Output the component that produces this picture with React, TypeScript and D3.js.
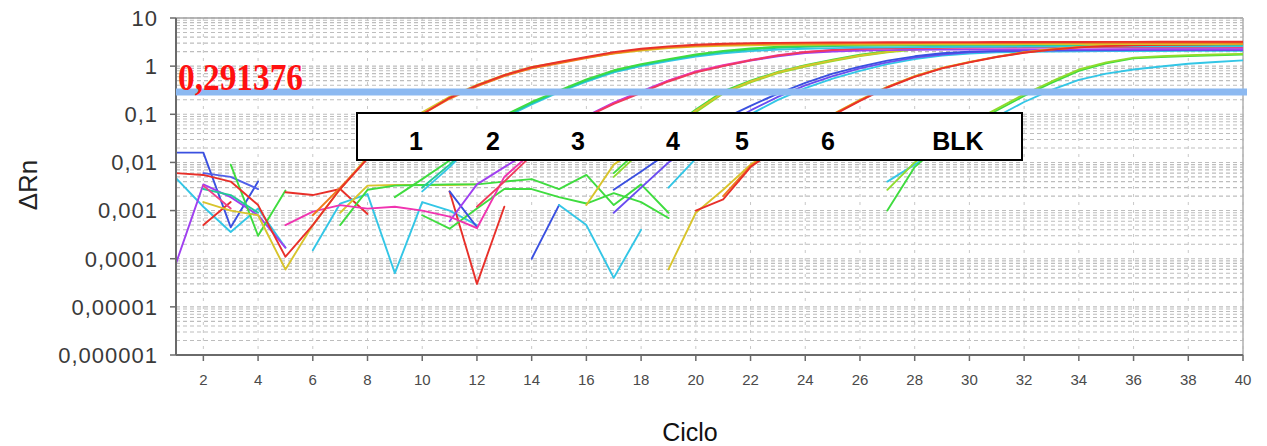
import React from "react";
import * as d3 from "d3";

// ---------- data ----------
const CYCLES = [1, 2, 3, 4, 5, 6, 7, 8, 9, 10, 11, 12, 13, 14, 15, 16, 17, 18, 19, 20, 21, 22, 23, 24, 25, 26, 27, 28, 29, 30, 31, 32, 33, 34, 35, 36, 37, 38, 39, 40];
const X_TICKS = [2, 4, 6, 8, 10, 12, 14, 16, 18, 20, 22, 24, 26, 28, 30, 32, 34, 36, 38, 40];
const Y_TICKS = [10, 1, 0.1, 0.01, 0.001, 0.0001, 0.00001, 0.000001];
const Y_TICK_LABELS = ["10", "1", "0,1", "0,01", "0,001", "0,0001", "0,00001", "0,000001"];
const THRESHOLD = 0.291376;
const THRESHOLD_LABEL = "0,291376";
const BOX_LABELS = ["1", "2", "3", "4", "5", "6", "BLK"];
const X_TITLE = "Ciclo";
const Y_TITLE = "ΔRn";

// baseline noise fragments (start cycle, values)
const n1Start = 1, n1 = [0.016, 0.016, 0.00045, 0.004];
const n2Start = 2, n2 = [0.006, 0.005, 0.0028];
const n3Start = 1, n3 = [0.0047, 0.0012, 0.00036, 0.0011, 0.00017];
const n4Start = 1, n4 = [0.00008, 0.0035, 0.0019, 0.0008, 0.00017];
const n5Start = 3, n5 = [0.009, 0.0003, 0.0026];
const n6Start = 2, n6 = [0.0028, 0.0021, 0.0009];
const n7Start = 2, n7 = [0.0005, 0.0015];
const n8Start = 5, n8 = [0.0024, 0.0021, 0.0028, 0.00085];
const n10Start = 6, n10 = [0.00015, 0.0014, 0.0022, 0.00005, 0.0015, 0.001, 0.0005];
const n11Start = 2, n11 = [0.0033, 0.0011];
const n12Start = 11, n12 = [0.0025, 0.00003, 0.0012];
const n13Start = 7, n13 = [0.0009, 0.0033, 0.0034, 0.0034, 0.0034, 0.0035];
const n14Start = 7, n14 = [0.0005, 0.0027, 0.0033, 0.0034, 0.0035, 0.0035, 0.004, 0.0045, 0.0028, 0.0055, 0.0013, 0.0035, 0.0009];
const n15Start = 10, n15 = [0.0008, 0.00042, 0.0011, 0.0028, 0.0028, 0.0019, 0.0014, 0.0023, 0.0015, 0.0007];
const n16Start = 11, n16 = [0.0025, 0.00045];
const n17Start = 14, n17 = [0.0001, 0.0013];
const n18Start = 15, n18 = [0.0013, 0.0005, 0.00004, 0.0004];

// amplification curves
const g1RedStart = 1, g1Red = [0.006, 0.0055, 0.004, 0.0013, 0.00011, 0.0005, 0.0028, 0.012, 0.04, 0.1, 0.22, 0.4, 0.65, 0.95, 1.22, 1.55, 1.95, 2.3, 2.58, 2.78, 2.92, 3.0, 3.05, 3.08, 3.1, 3.12, 3.13, 3.14, 3.15, 3.16, 3.17, 3.17, 3.18, 3.18, 3.19, 3.19, 3.2, 3.2, 3.21, 3.22];
const g1OrangeStart = 6, g1Orange = [0.0008, 0.003, 0.012, 0.042, 0.1, 0.21, 0.38, 0.62, 0.9, 1.15, 1.48, 1.85, 2.2, 2.45, 2.65, 2.78, 2.86, 2.91, 2.94, 2.96, 2.98, 2.99, 3.0, 3.01, 3.02, 3.03, 3.03, 3.04, 3.04, 3.05, 3.05, 3.06, 3.06, 3.07, 3.07];
const g1YellowStart = 2, g1Yellow = [0.0015, 0.001, 0.0008, 0.00006, 0.0005, 0.0028, 0.013, 0.045, 0.11, 0.23, 0.41, 0.66, 0.96, 1.2, 1.5, 1.82, 2.12, 2.38, 2.55, 2.66, 2.72, 2.76, 2.78, 2.8, 2.81, 2.82, 2.83, 2.84, 2.85, 2.85, 2.86, 2.86, 2.87, 2.87, 2.88, 2.88, 2.89, 2.89, 2.9];
const g2GreenStart = 9, g2Green = [0.0019, 0.0045, 0.011, 0.035, 0.095, 0.18, 0.31, 0.53, 0.82, 1.1, 1.4, 1.75, 2.08, 2.33, 2.52, 2.64, 2.72, 2.77, 2.8, 2.82, 2.84, 2.86, 2.87, 2.88, 2.89, 2.9, 2.91, 2.92, 2.92, 2.93, 2.93, 2.94];
const g2TealStart = 10, g2Teal = [0.003, 0.009, 0.032, 0.09, 0.17, 0.3, 0.5, 0.78, 1.05, 1.35, 1.68, 1.98, 2.22, 2.4, 2.52, 2.6, 2.65, 2.68, 2.7, 2.72, 2.73, 2.74, 2.75, 2.76, 2.77, 2.78, 2.78, 2.79, 2.79, 2.8, 2.8];
const g2CyanStart = 10, g2Cyan = [0.0025, 0.008, 0.03, 0.085, 0.16, 0.29, 0.48, 0.74, 1.0, 1.28, 1.58, 1.85, 2.05, 2.2, 2.3, 2.37, 2.42, 2.45, 2.48, 2.5, 2.52, 2.53, 2.54, 2.55, 2.56, 2.57, 2.57, 2.58, 2.58, 2.59, 2.6];
const g3MagentaStart = 5, g3Magenta = [0.0005, 0.00095, 0.0013, 0.0011, 0.0012, 0.001, 0.00075, 0.00043, 0.005, 0.016, 0.04, 0.09, 0.17, 0.29, 0.5, 0.78, 1.05, 1.35, 1.68, 1.98, 2.18, 2.3, 2.36, 2.4, 2.42, 2.43, 2.44, 2.44, 2.45, 2.45, 2.45, 2.46, 2.46, 2.46, 2.47, 2.47];
const g3PurpleStart = 11, g3Purple = [0.0006, 0.0035, 0.008, 0.018, 0.042, 0.092, 0.175, 0.3, 0.5, 0.76, 1.02, 1.3, 1.6, 1.86, 2.02, 2.1, 2.15, 2.18, 2.2, 2.21, 2.22, 2.22, 2.23, 2.23, 2.23, 2.24, 2.24, 2.24, 2.25, 2.25];
const g3RedStart = 12, g3Red = [0.0012, 0.004, 0.014, 0.038, 0.088, 0.165, 0.28, 0.48, 0.74, 1.0, 1.32, 1.65, 1.95, 2.15, 2.28, 2.36, 2.41, 2.44, 2.46, 2.48, 2.49, 2.5, 2.51, 2.52, 2.52, 2.53, 2.53, 2.54, 2.54];
const g4YellowStart = 16, g4Yellow = [0.0013, 0.009, 0.022, 0.045, 0.12, 0.28, 0.48, 0.74, 1.02, 1.32, 1.66, 1.98, 2.26, 2.46, 2.6, 2.68, 2.73, 2.77, 2.8, 2.82, 2.83, 2.84, 2.85, 2.86, 2.87];
const g4GreenStart = 17, g4Green = [0.006, 0.02, 0.048, 0.125, 0.3, 0.5, 0.76, 1.05, 1.36, 1.72, 2.05, 2.34, 2.54, 2.68, 2.77, 2.83, 2.87, 2.9, 2.92, 2.93, 2.94, 2.95, 2.96, 2.97];
const g4LimeStart = 17, g4Lime = [0.005, 0.017, 0.042, 0.11, 0.27, 0.46, 0.72, 0.98, 1.28, 1.62, 1.94, 2.2, 2.4, 2.52, 2.6, 2.64, 2.67, 2.69, 2.7, 2.71, 2.72, 2.72, 2.73, 2.73];
const g5BlueStart = 17, g5Blue = [0.0027, 0.0065, 0.016, 0.04, 0.08, 0.15, 0.27, 0.45, 0.7, 0.98, 1.3, 1.6, 1.85, 2.0, 2.08, 2.13, 2.16, 2.18, 2.19, 2.2, 2.21, 2.22, 2.22, 2.23];
const g5VioletStart = 17, g5Violet = [0.0009, 0.003, 0.01, 0.025, 0.06, 0.12, 0.23, 0.4, 0.62, 0.9, 1.2, 1.5, 1.75, 1.93, 2.03, 2.08, 2.11, 2.13, 2.14, 2.15, 2.16, 2.16, 2.17, 2.17];
const g5CyanStart = 19, g5Cyan = [0.003, 0.012, 0.045, 0.1, 0.2, 0.35, 0.55, 0.8, 1.1, 1.4, 1.65, 1.83, 1.93, 1.98, 2.01, 2.03, 2.05, 2.06, 2.07, 2.08, 2.08, 2.09];
const g6RedStart = 20, g6Red = [0.001, 0.0017, 0.008, 0.02, 0.045, 0.095, 0.19, 0.36, 0.6, 0.9, 1.2, 1.55, 1.9, 2.2, 2.45, 2.6, 2.7, 2.76, 2.8, 2.84, 2.88];
const g6YellowStart = 19, g6Yellow = [0.00006, 0.0009, 0.0027, 0.009, 0.021, 0.047, 0.1, 0.2, 0.37, 0.62, 0.92, 1.22, 1.58, 1.95, 2.25, 2.5, 2.68, 2.78, 2.84, 2.88, 2.9, 2.92];
const g6OrangeStart = 21, g6Orange = [0.002, 0.0085, 0.02, 0.046, 0.098, 0.195, 0.365, 0.61, 0.91, 1.21, 1.56, 1.92, 2.22, 2.47, 2.64, 2.74, 2.8, 2.84, 2.87, 2.9];
const blkGreenStart = 27, blkGreen = [0.001, 0.008, 0.025, 0.06, 0.12, 0.24, 0.45, 0.8, 1.15, 1.45, 1.55, 1.62, 1.68, 1.75];
const blkLimeStart = 27, blkLime = [0.0027, 0.01, 0.028, 0.065, 0.13, 0.26, 0.48, 0.85, 1.2, 1.5, 1.6, 1.68, 1.74, 1.8];
const blkCyanStart = 27, blkCyan = [0.004, 0.009, 0.02, 0.045, 0.09, 0.18, 0.32, 0.52, 0.7, 0.85, 0.98, 1.12, 1.22, 1.32];

// ---------- styles ----------
const C = {
  red: "#e8302a", orange: "#f07a1c", yellow: "#d8c42c", green: "#3fdc3f", lime: "#8fdc2c",
  teal: "#22cc96", cyan: "#33c6e6", blue: "#3a50e0", blue2: "#5060ea", purple: "#a040f0",
  violet: "#6a4cf0", magenta: "#f034b0", pink: "#f0408a", redPink: "#f03a5c",
};

const SERIES: { start: number; values: number[]; color: string }[] = [
  { start: n1Start, values: n1, color: C.blue },
  { start: n2Start, values: n2, color: C.blue2 },
  { start: n3Start, values: n3, color: C.cyan },
  { start: n4Start, values: n4, color: C.purple },
  { start: n5Start, values: n5, color: C.green },
  { start: n6Start, values: n6, color: C.teal },
  { start: n7Start, values: n7, color: C.red },
  { start: n8Start, values: n8, color: C.red },
  { start: n10Start, values: n10, color: C.cyan },
  { start: n11Start, values: n11, color: C.pink },
  { start: n12Start, values: n12, color: C.red },
  { start: n13Start, values: n13, color: C.yellow },
  { start: n14Start, values: n14, color: C.green },
  { start: n15Start, values: n15, color: C.green },
  { start: n16Start, values: n16, color: C.blue },
  { start: n17Start, values: n17, color: C.blue },
  { start: n18Start, values: n18, color: C.cyan },
  { start: blkCyanStart, values: blkCyan, color: C.cyan },
  { start: blkGreenStart, values: blkGreen, color: C.green },
  { start: blkLimeStart, values: blkLime, color: C.lime },
  { start: g5CyanStart, values: g5Cyan, color: C.cyan },
  { start: g5VioletStart, values: g5Violet, color: C.violet },
  { start: g5BlueStart, values: g5Blue, color: C.blue },
  { start: g4LimeStart, values: g4Lime, color: C.lime },
  { start: g4GreenStart, values: g4Green, color: C.green },
  { start: g4YellowStart, values: g4Yellow, color: C.yellow },
  { start: g3PurpleStart, values: g3Purple, color: C.purple },
  { start: g3MagentaStart, values: g3Magenta, color: C.magenta },
  { start: g3RedStart, values: g3Red, color: C.redPink },
  { start: g2CyanStart, values: g2Cyan, color: C.cyan },
  { start: g2TealStart, values: g2Teal, color: C.teal },
  { start: g2GreenStart, values: g2Green, color: C.green },
  { start: g6YellowStart, values: g6Yellow, color: C.yellow },
  { start: g6OrangeStart, values: g6Orange, color: C.orange },
  { start: g6RedStart, values: g6Red, color: C.red },
  { start: g1YellowStart, values: g1Yellow, color: C.yellow },
  { start: g1OrangeStart, values: g1Orange, color: C.orange },
  { start: g1RedStart, values: g1Red, color: C.red },
];

// ---------- layout ----------
const W = 1267, H = 446;
const PLOT = { left: 176, right: 1243, top: 18, bottom: 355 };
const BOX = { x: 357, y: 113, w: 665, h: 47, labelY: 150 };
const BOX_LABEL_X = [416, 493, 578, 673, 742, 828, 958];
const FONT = "'Liberation Sans', Arial, sans-serif";

export default function App() {
  const x = d3.scaleLinear().domain([1, 40]).range([PLOT.left, PLOT.right]);
  const y = d3.scaleLog().domain([1e-6, 10]).range([PLOT.bottom, PLOT.top]);

  const line = d3
    .line<[number, number | null]>()
    .defined((d) => d[1] != null && (d[1] as number) > 0)
    .x((d) => x(d[0]))
    .y((d) => y(d[1] as number));

  const gridY: number[] = [];
  for (let e = -6; e <= 0; e++) {
    for (let k = 1; k <= 9; k++) {
      const v = k * Math.pow(10, e);
      if (e === -6 && k === 1) continue;
      gridY.push(v);
    }
  }
  gridY.push(10);

  const toPoints = (start: number, values: number[]) =>
    CYCLES.map((c) => [c, c >= start && c - start < values.length ? values[c - start] : null] as [number, number | null]);

  const ty = y(THRESHOLD);

  return (
    <svg width={W} height={H} style={{ position: "absolute", left: 0, top: 0, display: "block", background: "#fff" }}>
      <rect x={0} y={0} width={W} height={H} fill="#fff" />
      <defs>
        <clipPath id="plotClip">
          <rect x={PLOT.left} y={PLOT.top} width={PLOT.right - PLOT.left} height={PLOT.bottom - PLOT.top} />
        </clipPath>
      </defs>

      {/* grid */}
      <g>
        {gridY.map((v, i) => (
          <line key={"gy" + i} x1={PLOT.left} x2={PLOT.right} y1={y(v)} y2={y(v)} stroke="#bdbdbd" strokeWidth={1.1} strokeDasharray="4,3" />
        ))}
        {X_TICKS.map((t) => (
          <line key={"gx" + t} x1={x(t)} x2={x(t)} y1={PLOT.top} y2={PLOT.bottom} stroke="#c8c8c8" strokeWidth={1} strokeDasharray="3,5" />
        ))}
      </g>

      {/* frame */}
      <line x1={PLOT.left} x2={PLOT.right} y1={PLOT.top} y2={PLOT.top} stroke="#a0a0a0" strokeWidth={1.5} />
      <line x1={PLOT.right} x2={PLOT.right} y1={PLOT.top} y2={PLOT.bottom} stroke="#b0b0b0" strokeWidth={1.5} />

      {/* curves */}
      <g clipPath="url(#plotClip)" fill="none" strokeWidth={1.9} strokeLinejoin="round" strokeLinecap="round">
        {SERIES.map((s, i) => (
          <path key={"s" + i} d={line(toPoints(s.start, s.values)) || ""} stroke={s.color} />
        ))}
      </g>

      {/* axes */}
      <line x1={PLOT.left} x2={PLOT.left} y1={PLOT.top} y2={PLOT.bottom} stroke="#6a6a6a" strokeWidth={2} />
      <line x1={PLOT.left} x2={PLOT.right} y1={PLOT.bottom} y2={PLOT.bottom} stroke="#6a6a6a" strokeWidth={2} />
      {Y_TICKS.map((t, i) => (
        <g key={"yt" + i}>
          <line x1={PLOT.left - 6} x2={PLOT.left} y1={y(t)} y2={y(t)} stroke="#6a6a6a" strokeWidth={1.5} />
          <text x={158} y={y(t)} dy="0.36em" textAnchor="end" fontFamily={FONT} fontSize={22} letterSpacing={1} fill="#3a3a3a">
            {Y_TICK_LABELS[i]}
          </text>
        </g>
      ))}
      {X_TICKS.map((t) => (
        <g key={"xt" + t}>
          <line x1={x(t)} x2={x(t)} y1={PLOT.bottom} y2={PLOT.bottom + 6} stroke="#6a6a6a" strokeWidth={1.5} />
          <text x={x(t)} y={385} textAnchor="middle" fontFamily={FONT} fontSize={15} fill="#4a4a4a">
            {t}
          </text>
        </g>
      ))}

      {/* axis titles */}
      <text x={690} y={441} textAnchor="middle" fontFamily={FONT} fontSize={25} fill="#111">
        {X_TITLE}
      </text>
      <text transform="translate(37,185) rotate(-90)" textAnchor="middle" fontFamily={FONT} fontSize={26} fill="#222">
        {Y_TITLE}
      </text>

      {/* threshold */}
      <line x1={PLOT.left} x2={PLOT.right + 4} y1={ty} y2={ty} stroke="#8cb9f1" strokeWidth={7} />
      <text x={178} y={90} fontFamily="'Liberation Serif', 'Times New Roman', serif" fontWeight="bold" fontSize={38}
        textLength={125} lengthAdjust="spacingAndGlyphs" fill="#ff1010">
        {THRESHOLD_LABEL}
      </text>

      {/* annotation box */}
      <rect x={BOX.x} y={BOX.y} width={BOX.w} height={BOX.h} fill="#fff" stroke="#000" strokeWidth={2} />
      {BOX_LABELS.map((l, i) => (
        <text key={"bl" + i} x={BOX_LABEL_X[i]} y={BOX.labelY} textAnchor="middle" fontFamily={FONT} fontWeight="bold" fontSize={25} fill="#000">
          {l}
        </text>
      ))}
    </svg>
  );
}
